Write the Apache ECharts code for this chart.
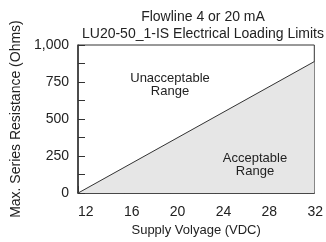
<!DOCTYPE html>
<html>
<head>
<meta charset="utf-8">
<script src="https://cdn.jsdelivr.net/npm/echarts@6/dist/echarts.min.js"></script>
<style>
  html, body { margin: 0; padding: 0; background: #fff; }
  #chart { width: 326px; height: 242px; }
</style>
</head>
<body>
<div id="chart"></div>
<script>
// supply voltage (VDC) and the max loading resistance along the limit line
var voltage = [12, 32.6];
var resistance = [0, 888];
var xTicks = [12, 16, 20, 24, 28, 32];
var yLabels = [0, 250, 500, 750, 1000];

var FONT = 'Liberation Sans';
var chart = echarts.init(document.getElementById('chart'));

var option = {
    animation: false,
    backgroundColor: '#fff',
    title: {
        text: 'Flowline 4 or 20 mA\nLU20-50_1-IS Electrical Loading Limits',
        left: 198,
        top: 4,
        textAlign: 'center',
        textStyle: { fontFamily: FONT, fontSize: 14, fontWeight: 'normal', color: '#222', lineHeight: 17 }
    },
    grid: {
        left: 78, top: 45, right: 1, bottom: 35,
        show: true, borderColor: '#333', borderWidth: 1
    },
    xAxis: {
        type: 'value',
        min: 12, max: 32.6, interval: 4,
        name: 'Supply Volyage (VDC)',
        nameLocation: 'middle',
        nameGap: 28,
        nameTextStyle: { fontFamily: FONT, fontSize: 13, color: '#222' },
        axisLine: { lineStyle: { color: '#333', width: 1.5 } },
        axisTick: { inside: true, length: 7, lineStyle: { color: '#333' } },
        axisLabel: {
            fontFamily: FONT, fontSize: 14, color: '#222', align: 'left', margin: 12,
            showMaxLabel: false,
            formatter: function (v) { return xTicks.indexOf(v) >= 0 ? String(v) : ''; }
        },
        splitLine: { show: false }
    },
    yAxis: {
        type: 'value',
        min: 0, max: 1000, interval: 125,
        name: 'Max. Series Resistance (Ohms)',
        nameLocation: 'middle',
        nameGap: 55,
        nameTextStyle: { fontFamily: FONT, fontSize: 14, color: '#222' },
        axisLine: { show: true, lineStyle: { color: '#333', width: 1.5 } },
        axisTick: { show: true, inside: true, length: 7, lineStyle: { color: '#333' } },
        axisLabel: {
            fontFamily: FONT, fontSize: 14, color: '#222', margin: 9,
            formatter: function (v) {
                return yLabels.indexOf(v) >= 0 ? v.toLocaleString('en-US') : '';
            }
        },
        splitLine: { show: false }
    },
    graphic: [
        { type: 'text', x: 170, y: 72, z: 100, style: { text: 'Unacceptable\nRange', align: 'center', verticalAlign: 'top', font: '13px "Liberation Sans"', fill: '#222', lineHeight: 13 } },
        { type: 'text', x: 255, y: 152, z: 100, style: { text: 'Acceptable\nRange', align: 'center', verticalAlign: 'top', font: '13px "Liberation Sans"', fill: '#222', lineHeight: 13 } }
    ],
    series: [{
        type: 'line',
        data: voltage.map(function (v, i) { return [v, resistance[i]]; }),
        symbol: 'none',
        lineStyle: { color: '#333', width: 1 },
        areaStyle: { color: '#e6e6e6', opacity: 1 }
    }]
};

chart.setOption(option);
</script>
</body>
</html>
